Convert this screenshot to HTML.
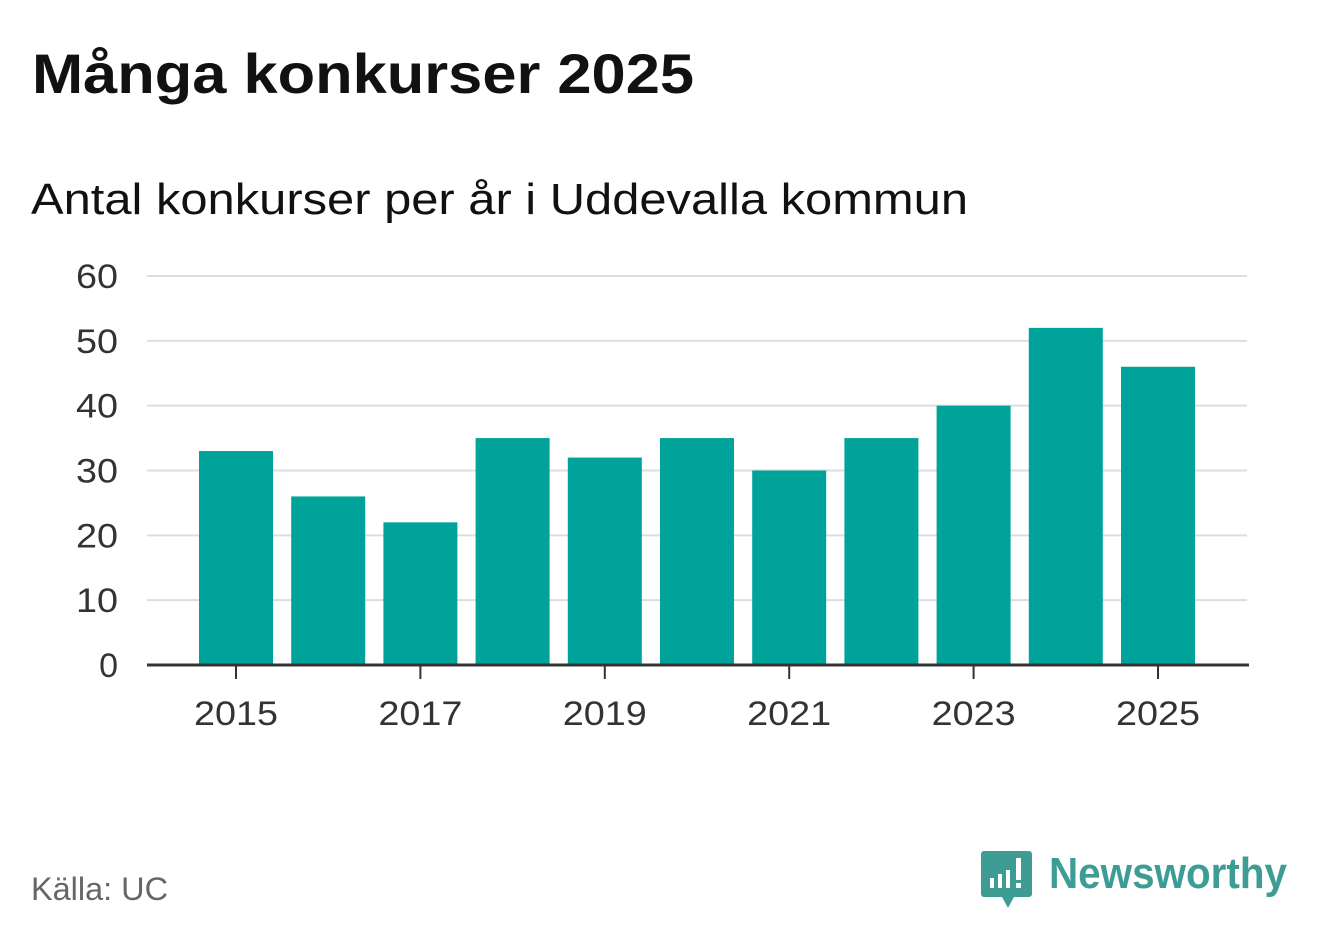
<!DOCTYPE html>
<html><head><meta charset="utf-8">
<style>
body{margin:0;width:1322px;height:939px;background:#fff;overflow:hidden;font-family:"Liberation Sans",sans-serif;}
svg text{font-family:"Liberation Sans",sans-serif;}
</style></head>
<body>
<svg id="c" width="1322" height="939">
<text x="32" y="93" font-size="56" font-weight="bold" fill="#111" textLength="662" lengthAdjust="spacingAndGlyphs">Många konkurser 2025</text>
<text x="31" y="214" font-size="44" fill="#111" textLength="937" lengthAdjust="spacingAndGlyphs">Antal konkurser per år i Uddevalla kommun</text>
<text x="31" y="900" font-size="32" fill="#666" textLength="137" lengthAdjust="spacingAndGlyphs">Källa: UC</text>
<g>
<path d="M984 851 h45 a3 3 0 0 1 3 3 v40 a3 3 0 0 1 -3 3 h-15 l-6 11 l-6 -11 h-18 a3 3 0 0 1 -3 -3 v-40 a3 3 0 0 1 3 -3z" fill="#3d9d95"/>
<rect x="990" y="878" width="4" height="10" fill="#fff"/>
<rect x="998" y="874" width="4" height="14" fill="#fff"/>
<rect x="1006" y="870" width="4" height="18" fill="#fff"/>
<rect x="1016" y="858" width="5" height="22" fill="#fff"/>
<rect x="1016" y="883" width="5" height="5" fill="#fff"/>
<text x="1049" y="888" font-size="44" font-weight="bold" fill="#3d9d95" textLength="238" lengthAdjust="spacingAndGlyphs">Newsworthy</text>
</g>
<g id="plot"></g>
</svg>
<script>
const years=[2015,2016,2017,2018,2019,2020,2021,2022,2023,2024,2025];
const values=[33,26,22,35,32,35,30,35,40,52,46];
const yTicks=[0,10,20,30,40,50,60];
const xLabels=[2015,2017,2019,2021,2023,2025];
const NS="http://www.w3.org/2000/svg";
const g=document.getElementById('plot');
const y=v=>665-v*(389/60);
const x=yr=>236+(yr-2015)*92.2;
function mk(t,a){const e=document.createElementNS(NS,t);for(const k in a)e.setAttribute(k,a[k]);g.appendChild(e);return e;}
yTicks.forEach(v=>{
  if(v>0){const l=mk('line',{x1:147,x2:1247,y1:y(v),y2:y(v),stroke:'#dddddd','stroke-width':2});
  
  }
  const a={x:118,y:y(v)+12,'font-size':34,fill:'#333','text-anchor':'end'};
  if(v>0){a.textLength=42;a.lengthAdjust='spacingAndGlyphs';}
  const t=mk('text',a);t.textContent=v;
  
  
});
years.forEach((yr,i)=>{
  const r=mk('rect',{x:x(yr)-37,y:y(values[i]),width:74,height:665-y(values[i]),fill:'#00a399'});
  
  
});
const ax=mk('line',{x1:147,x2:1249,y1:665,y2:665,stroke:'#333','stroke-width':3});


xLabels.forEach(yr=>{
  const tk=mk('line',{x1:x(yr),x2:x(yr),y1:665,y2:679,stroke:'#333','stroke-width':2});
  
  
  const t=mk('text',{x:x(yr)-42,y:725,'font-size':34,fill:'#333',textLength:84,lengthAdjust:'spacingAndGlyphs'});t.textContent=yr;
  
  
});
</script>
</body></html>
